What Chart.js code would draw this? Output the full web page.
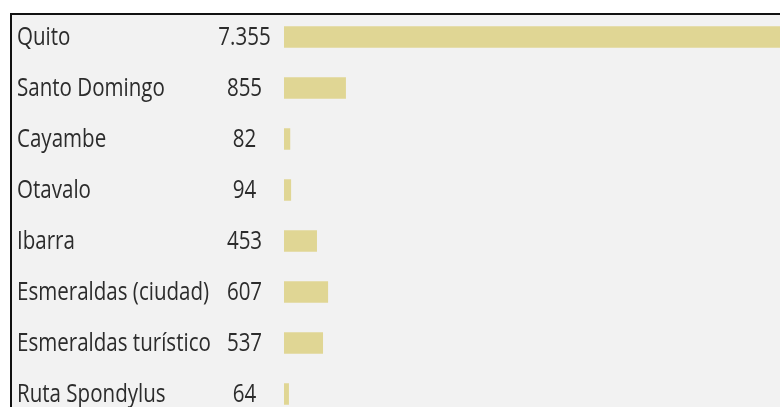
<!DOCTYPE html>
<html>
<head>
<meta charset="utf-8">
<script src="https://cdn.jsdelivr.net/npm/chart.js@4.4.0/dist/chart.umd.min.js"></script>
<style>
  html, body { margin: 0; padding: 0; background: #fff; }
  #viewport { position: relative; width: 780px; height: 407px; overflow: hidden; }
  #panel {
    position: absolute; left: 10px; top: 13px; right: 0; bottom: 0;
    background: #f2f2f2; border-left: 2px solid #111; border-top: 2px solid #111;
  }
  #chartBox { position: absolute; left: 0; top: 0; width: 830px; height: 430px; }
</style>
</head>
<body>
<div id="viewport">
  <div id="panel"></div>
  <div id="chartBox"><canvas id="chart"></canvas></div>
</div>
<script>
// Destinos y cantidades
const destinos = [
  'Quito', 'Santo Domingo', 'Cayambe', 'Otavalo', 'Ibarra',
  'Esmeraldas (ciudad)', 'Esmeraldas turístico', 'Ruta Spondylus'
];
const cantidades = [7355, 855, 82, 94, 453, 607, 537, 64];

const BAR_COLOR = '#e0d694';
const TEXT_COLOR = '#2c2c2c';
const FONT = '"Open Sans", sans-serif';
const SQUEEZE = 0.79;   // narrow the text horizontally

// 7355 -> "7.355"
function formatNumber(n) {
  return String(n).replace(/\B(?=(\d{3})+(?!\d))/g, '.');
}

function drawNarrow(ctx, text, x, y, align) {
  ctx.save();
  ctx.translate(x, y);
  ctx.scale(SQUEEZE, 1);
  ctx.textAlign = align;
  ctx.fillText(text, 0, 0);
  ctx.restore();
}

// Names on the left, numbers centred in their own column before the bars
const rowLabels = {
  id: 'rowLabels',
  afterDatasetsDraw(chart) {
    const ctx = chart.ctx;
    const y = chart.scales.y;
    ctx.save();
    ctx.fillStyle = TEXT_COLOR;
    ctx.font = '26px ' + FONT;
    ctx.textBaseline = 'middle';
    destinos.forEach((name, i) => {
      const py = y.getPixelForValue(i) + 1;
      drawNarrow(ctx, name, 17, py, 'left');
      drawNarrow(ctx, formatNumber(cantidades[i]), 244.5, py, 'center');
    });
    ctx.restore();
  }
};

new Chart(document.getElementById('chart'), {
  type: 'bar',
  data: {
    labels: destinos,
    datasets: [{
      data: cantidades,
      backgroundColor: BAR_COLOR,
      borderWidth: 0,
      barThickness: 21
    }]
  },
  options: {
    indexAxis: 'y',
    responsive: true,
    maintainAspectRatio: false,
    animation: false,
    layout: { padding: { left: 284, right: 16, top: 11.5, bottom: 10.5 } },
    plugins: { legend: { display: false }, tooltip: { enabled: false } },
    scales: {
      x: { display: false, min: 0, max: 7355 },
      y: { display: false }
    }
  },
  plugins: [rowLabels]
});
</script>
</body>
</html>
